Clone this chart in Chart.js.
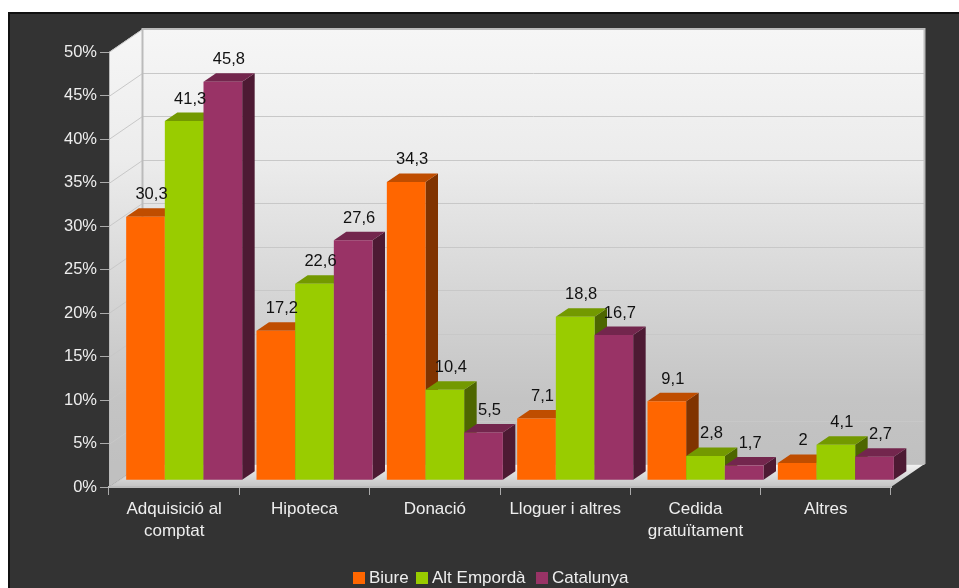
<!DOCTYPE html>
<html>
<head>
<meta charset="utf-8">
<style>
html, body { margin: 0; padding: 0; background: #fff; overflow: hidden; }
#panel { position: absolute; left: 8px; top: 12px; right: -4px; bottom: -4px; background: #333; border: 2px solid #111; }
#chart { position: absolute; left: 0; top: 0; }
</style>
<script src="https://cdn.jsdelivr.net/npm/chart.js@4"></script>
</head>
<body>
<div id="panel"></div>
<canvas id="chart" width="959" height="588"></canvas>
<script>
const categories = [['Adquisició al', 'comptat'], 'Hipoteca', 'Donació', 'Lloguer i altres', ['Cedida', 'gratuïtament'], 'Altres'];
const biure = [30.3, 17.2, 34.3, 7.1, 9.1, 2];
const altEmporda = [41.3, 22.6, 10.4, 18.8, 2.8, 4.1];
const catalunya = [45.8, 27.6, 5.5, 16.7, 1.7, 2.7];

const FONT = '"Liberation Sans", Arial, sans-serif';
const TEXT_COLOR = '#eeeeee';
// 3D look: the back wall sits up and right of the axes, bars sit partway in
const WALL_X = 33.5, WALL_Y = 23;
const BAR_X = 10, BAR_Y = 6.7;
const SIDE_X = 12.5, SIDE_Y = 8.5;

function shade(hex, f) {
    const n = parseInt(hex.slice(1), 16);
    const c = [n >> 16, (n >> 8) & 255, n & 255].map(v => Math.round(v * f));
    return `rgb(${c[0]},${c[1]},${c[2]})`;
}

function poly(ctx, pts, fill) {
    ctx.beginPath();
    pts.forEach((p, i) => i ? ctx.lineTo(p[0], p[1]) : ctx.moveTo(p[0], p[1]));
    ctx.closePath();
    ctx.fillStyle = fill;
    ctx.fill();
}

const scene3d = {
    id: 'scene3d',
    beforeDraw(chart) {
        const { ctx, chartArea: a, scales: { y } } = chart;
        ctx.save();
        const wall = ctx.createLinearGradient(0, a.top - WALL_Y, 0, a.bottom - WALL_Y);
        wall.addColorStop(0, '#f6f6f6');
        wall.addColorStop(0.3, '#ececec');
        wall.addColorStop(0.85, '#c4c4c4');
        wall.addColorStop(1, '#c0c0c0');
        // back wall and left wall
        poly(ctx, [[a.left + WALL_X, a.top - WALL_Y], [a.right + WALL_X, a.top - WALL_Y], [a.right + WALL_X, a.bottom - WALL_Y], [a.left + WALL_X, a.bottom - WALL_Y]], wall);
        poly(ctx, [[a.left, a.top], [a.left + WALL_X, a.top - WALL_Y], [a.left + WALL_X, a.bottom - WALL_Y], [a.left, a.bottom]], wall);
        // floor
        const floor = ctx.createLinearGradient(0, a.bottom - WALL_Y, 0, a.bottom);
        floor.addColorStop(0, '#f2f2f2');
        floor.addColorStop(1, '#c4c4c4');
        poly(ctx, [[a.left, a.bottom], [a.left + WALL_X, a.bottom - WALL_Y], [a.right + WALL_X, a.bottom - WALL_Y], [a.right, a.bottom]], floor);
        // grid lines run along the left wall then across the back
        ctx.strokeStyle = '#c8c8c8';
        ctx.lineWidth = 1;
        y.ticks.forEach((t, i) => {
            const py = Math.round(y.getPixelForTick(i)) + 0.5;
            ctx.beginPath();
            ctx.moveTo(a.left, py);
            ctx.lineTo(a.left + WALL_X, py - WALL_Y);
            ctx.lineTo(a.right + WALL_X, py - WALL_Y);
            ctx.stroke();
        });
        // wall frame
        ctx.strokeStyle = '#bbbbbb';
        ctx.lineWidth = 2;
        ctx.beginPath();
        ctx.moveTo(a.left + WALL_X, a.bottom - WALL_Y);
        ctx.lineTo(a.left + WALL_X, a.top - WALL_Y);
        ctx.lineTo(a.right + WALL_X, a.top - WALL_Y);
        ctx.lineTo(a.right + WALL_X, a.bottom - WALL_Y);
        ctx.stroke();
        ctx.restore();
    },
    beforeDatasetsDraw(chart) {
        const { ctx } = chart;
        ctx.save();
        ctx.translate(BAR_X, -BAR_Y);
        // left to right, so every bar covers the side of the one before it
        chart.data.datasets.forEach((ds, d) => {
            chart.getDatasetMeta(d).data.forEach(bar => {
                const l = bar.x - bar.width / 2, r = bar.x + bar.width / 2;
                poly(ctx, [[r, bar.y], [r + SIDE_X, bar.y - SIDE_Y], [r + SIDE_X, bar.base - SIDE_Y], [r, bar.base]], shade(ds.backgroundColor, 0.5));
                poly(ctx, [[l, bar.y], [l + SIDE_X, bar.y - SIDE_Y], [r + SIDE_X, bar.y - SIDE_Y], [r, bar.y]], shade(ds.backgroundColor, 0.75));
                bar.draw(ctx);
            });
        });
        ctx.restore();
        return false;
    },
    afterDraw(chart) {
        const { ctx } = chart;
        ctx.save();
        // value labels
        ctx.font = '16.5px ' + FONT;
        ctx.fillStyle = '#111111';
        ctx.textAlign = 'center';
        ctx.textBaseline = 'middle';
        chart.data.datasets.forEach((ds, d) => {
            chart.getDatasetMeta(d).data.forEach((bar, i) => {
                ctx.fillText(String(ds.data[i]).replace('.', ','), bar.x + BAR_X + 6, bar.y - BAR_Y - 22);
            });
        });
        // legend, tighter than the built-in one
        const boxes = [353, 416, 536];
        ctx.font = '17px ' + FONT;
        ctx.textAlign = 'left';
        chart.data.datasets.forEach((ds, d) => {
            ctx.fillStyle = ds.backgroundColor;
            ctx.fillRect(boxes[d], 572, 12, 12);
            ctx.fillStyle = TEXT_COLOR;
            ctx.fillText(ds.label, boxes[d] + 16, 578);
        });
        ctx.restore();
    }
};

new Chart(document.getElementById('chart'), {
    type: 'bar',
    data: {
        labels: categories,
        datasets: [
            { label: 'Biure', data: biure, backgroundColor: '#ff6600' },
            { label: 'Alt Empordà', data: altEmporda, backgroundColor: '#99cc00' },
            { label: 'Catalunya', data: catalunya, backgroundColor: '#993366' }
        ]
    },
    options: {
        responsive: false,
        animation: false,
        barPercentage: 1,
        categoryPercentage: 0.89,
        layout: { padding: { left: 0, top: 52, right: 68, bottom: 0 } },
        plugins: {
            legend: { display: false },
            tooltip: { enabled: false }
        },
        scales: {
            x: {
                afterFit: s => { s.height = 101; },
                grid: { drawOnChartArea: false, color: '#aaaaaa', tickLength: 8 },
                border: { color: '#bbbbbb', width: 2 },
                ticks: { color: TEXT_COLOR, maxRotation: 0, padding: 4, font: { family: FONT, size: 17, lineHeight: 1.27 } }
            },
            y: {
                min: 0,
                max: 50,
                afterFit: s => { s.width = 109; },
                grid: { drawOnChartArea: false, color: '#aaaaaa', tickLength: 9 },
                border: { color: '#bbbbbb', width: 1 },
                ticks: {
                    stepSize: 5,
                    color: TEXT_COLOR,
                    padding: 3,
                    font: { family: FONT, size: 16.5 },
                    callback: v => v + '%'
                }
            }
        }
    },
    plugins: [scene3d]
});
</script>
</body>
</html>
